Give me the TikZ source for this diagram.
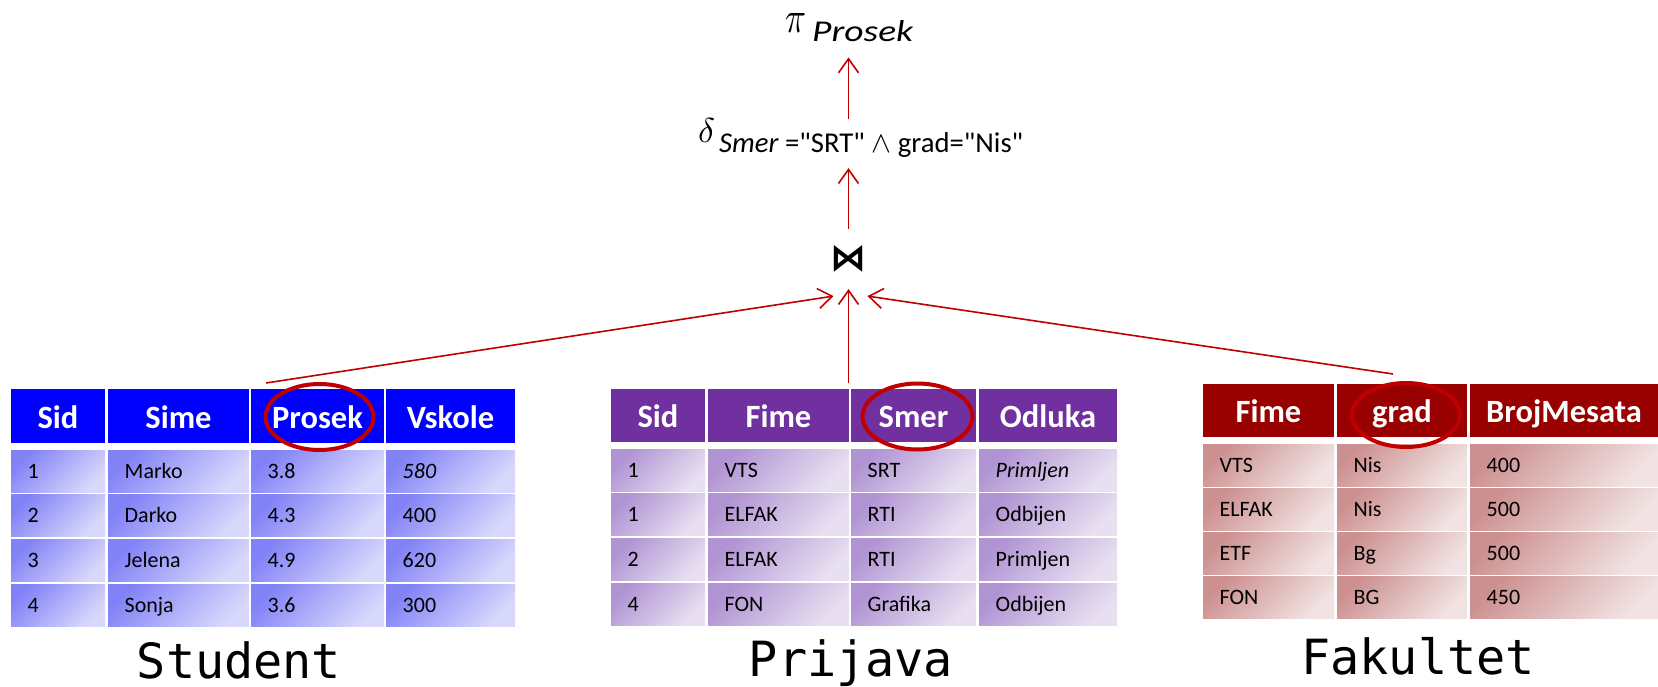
\documentclass[tikz,border=0pt]{standalone}
\usepackage{fontspec}
\setmainfont{Carlito}
\newfontfamily\plainfont{Carlito}
\newfontfamily\monof{DejaVu Sans Mono}
\newfontfamily\djv{DejaVu Sans}
\usepackage{graphicx}
\usetikzlibrary{arrows.meta,calc}
\definecolor{stH}{HTML}{0000FF}
\definecolor{stD}{HTML}{8282F7}
\definecolor{stL}{HTML}{D8D8FC}
\definecolor{prH}{HTML}{7030A0}
\definecolor{prD}{HTML}{B093D3}
\definecolor{prL}{HTML}{E8E0F1}
\definecolor{faH}{HTML}{990000}
\definecolor{faD}{HTML}{CD9090}
\definecolor{faL}{HTML}{F1E3E3}
\definecolor{arrRed}{HTML}{C00000}
\tikzset{
  stHead/.style={fill=stH},
  prHead/.style={fill=prH},
  faHead/.style={fill=faH},
  stBody/.style={top color=stD, bottom color=stL, shading angle=45},
  prBody/.style={top color=prD, bottom color=prL, shading angle=45},
  faBody/.style={top color=faD, bottom color=faL, shading angle=45},
  htxt/.style={inner sep=0pt, text=white, font=\fontsize{32.5}{32.5}\selectfont\bfseries},
  btxt/.style={inner sep=0pt, text=black, font=\fontsize{22}{22}\selectfont},
  tlabel/.style={inner sep=0pt, font=\fontsize{48.5}{48.5}\selectfont\monof},
  arr/.style={draw=arrRed, line width=1.6pt, -{Straight Barb[length=14pt,width=20pt,line width=1.6pt]}},
  oval/.style={draw=arrRed, line width=4pt},
}
\newcommand\mkcell[6]{%
  \pgfmathsetmacro\mcw{#5-#3}\pgfmathsetmacro\mch{#6-#4}%
  \node[#2, minimum width=\mcw pt, minimum height=\mch pt, anchor=north west, inner sep=0pt, outer sep=0pt] (#1) at (#3,#4) {};}
\newcommand\htext[2]{\node[htxt, anchor=base] (#1-t) at ([yshift=-12pt]#1.center) {#2};}
\newcommand\btext[2]{\node[btxt, anchor=base west] (#1-t) at ([xshift=16.5pt,yshift=-7pt]#1.west) {#2};}
\begin{document}
\begin{tikzpicture}[x=1pt, y=-1pt]
\useasboundingbox (0,0) rectangle (1658,687);

% ---------- Student ----------
\mkcell{s-h1}{stHead}{11}{389}{105}{443}\htext{s-h1}{Sid}
\mkcell{s-h2}{stHead}{108}{389}{249}{443}\htext{s-h2}{Sime}
\mkcell{s-h3}{stHead}{251}{389}{384}{443}\htext{s-h3}{Prosek}
\mkcell{s-h4}{stHead}{386}{389}{515}{443}\htext{s-h4}{Vskole}
\foreach \r/\ty/\a/\b/\c/\d in {1/450/1/Marko/3.8/\textit{580},2/494/2/Darko/4.3/400,3/539/3/Jelena/4.9/620,4/584/4/Sonja/3.6/300}{
  \pgfmathtruncatemacro\by{\ty+42}
  \mkcell{s-\r-1}{stBody}{11}{\ty}{105}{\by}\btext{s-\r-1}{\a}
  \mkcell{s-\r-2}{stBody}{108}{\ty}{249}{\by}\btext{s-\r-2}{\b}
  \mkcell{s-\r-3}{stBody}{251}{\ty}{384}{\by}\btext{s-\r-3}{\c}
  \mkcell{s-\r-4}{stBody}{386}{\ty}{515}{\by}\btext{s-\r-4}{\d}
}
\node[tlabel, anchor=base] (stlabel) at (239,678) {Student};

% ---------- Prijava ----------
\mkcell{p-h1}{prHead}{611}{389}{705}{442}\htext{p-h1}{Sid}
\mkcell{p-h2}{prHead}{708}{389}{849}{442}\htext{p-h2}{Fime}
\mkcell{p-h3}{prHead}{851}{389}{976}{442}\htext{p-h3}{Smer}
\mkcell{p-h4}{prHead}{979}{389}{1117}{442}\htext{p-h4}{Odluka}
\foreach \r/\ty/\a/\b/\c/\d in {1/449/1/VTS/SRT/\textit{Primljen},2/493/1/ELFAK/RTI/Odbijen,3/538/2/ELFAK/RTI/Primljen,4/583/4/FON/Grafika/Odbijen}{
  \pgfmathtruncatemacro\by{\ty+42}
  \mkcell{p-\r-1}{prBody}{611}{\ty}{705}{\by}\btext{p-\r-1}{\a}
  \mkcell{p-\r-2}{prBody}{708}{\ty}{849}{\by}\btext{p-\r-2}{\b}
  \mkcell{p-\r-3}{prBody}{851}{\ty}{976}{\by}\btext{p-\r-3}{\c}
  \mkcell{p-\r-4}{prBody}{979}{\ty}{1117}{\by}\btext{p-\r-4}{\d}
}
\node[tlabel, anchor=base] (prlabel) at (851,676) {Prijava};

% ---------- Fakultet ----------
\mkcell{f-h1}{faHead}{1203}{384}{1334}{437}\htext{f-h1}{Fime}
\mkcell{f-h2}{faHead}{1337}{384}{1467}{437}\htext{f-h2}{grad}
\mkcell{f-h3}{faHead}{1470}{384}{1658}{437}\htext{f-h3}{BrojMesata}
\foreach \r/\ty/\a/\b/\c in {1/444/VTS/Nis/400,2/488/ELFAK/Nis/500,3/532/ETF/Bg/500,4/576/FON/BG/450}{
  \pgfmathtruncatemacro\by{\ty+42}
  \mkcell{f-\r-1}{faBody}{1203}{\ty}{1334}{\by}\btext{f-\r-1}{\a}
  \mkcell{f-\r-2}{faBody}{1337}{\ty}{1467}{\by}\btext{f-\r-2}{\b}
  \mkcell{f-\r-3}{faBody}{1470}{\ty}{1658}{\by}\btext{f-\r-3}{\c}
}
\node[tlabel, anchor=base] (falabel) at (1418,674) {Fakultet};

% ---------- ellipses ----------
\draw[oval] ([xshift=2pt,yshift=-1pt]s-h3.center) ellipse [x radius=54, y radius=33];
\draw[oval] ([xshift=4pt,yshift=-1pt]p-h3.center) ellipse [x radius=55, y radius=33];
\draw[oval] ([xshift=4pt,yshift=-4.5pt]f-h2.center) ellipse [x radius=54, y radius=32];

% ---------- query tree ----------
\node[inner sep=0pt] (join) at (848.5,259) {\resizebox{36pt}{25pt}{\djv\bfseries ⋈}};
\node[inner sep=0pt, anchor=base west] (delta) at (698,143)
  {\resizebox{17pt}{24pt}{$\delta$}\hspace{4pt}\raisebox{-10pt}{\resizebox{304pt}{!}{\plainfont\fontsize{20}{20}\selectfont\textit{Smer} ="SRT" $\wedge$ grad="Nis"}}};
\node[inner sep=0pt, anchor=base west] (pi) at (785,33)
  {\resizebox{21pt}{19pt}{$\pi$}\hspace{6pt}\raisebox{-9pt}{\resizebox{101pt}{21pt}{$\mathit{Prosek}$}}};

\draw[arr] ([yshift=16.5pt]join.north) -- ([yshift=-10pt]join.north |- delta.south);
\draw[arr] (join.north |- delta.north) -- ([yshift=-15pt]join.north |- pi.south);
\draw[arr] ([xshift=15pt,yshift=6pt]s-h3.north west) -- ([xshift=-15pt,yshift=-23.5pt]join.south);
\draw[arr] ([xshift=-2.5pt,yshift=6pt]p-h3.north west) -- ([yshift=-16.5pt]join.south);
\draw[arr] ([xshift=56pt,yshift=10pt]f-h2.north west) -- ([xshift=19pt,yshift=-23.5pt]join.south);
\end{tikzpicture}
\end{document}
